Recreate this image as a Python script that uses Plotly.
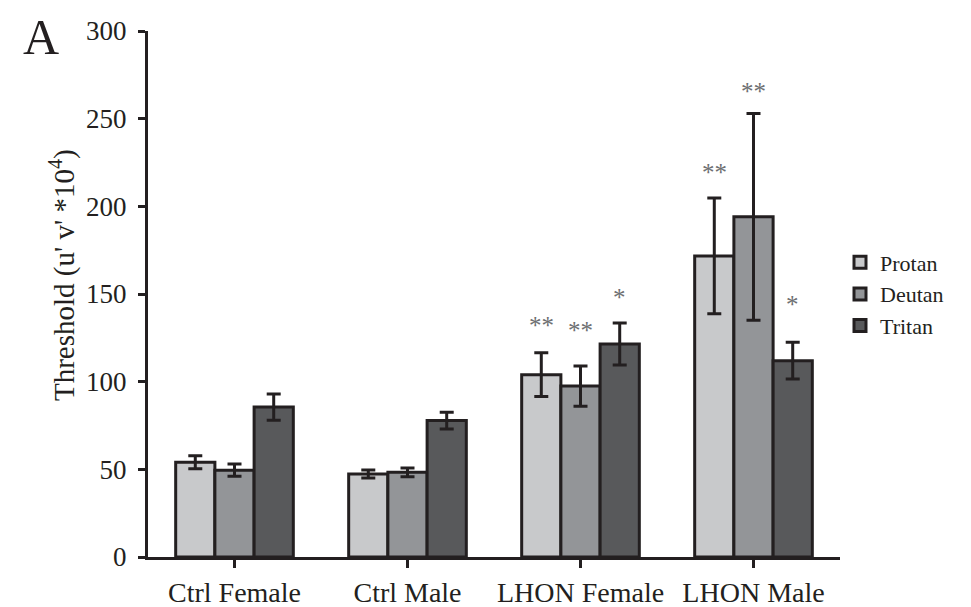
import plotly.graph_objects as go

categories = ["Ctrl Female", "Ctrl Male", "LHON Female", "LHON Male"]
series = ["Protan", "Deutan", "Tritan"]
protan = [54, 47.3, 104, 171.7]
protan_err = [3.7, 2.3, 12.5, 33]
deutan = [49.5, 48.3, 97.5, 194]
deutan_err = [3.5, 2.5, 11.5, 59]
tritan = [85.5, 77.8, 121.5, 112]
tritan_err = [7.5, 4.8, 12, 10.5]
colors = ["#c8c9cb", "#939598", "#58595b"]

# significance markers: (category index, series index, label, y in data units)
sig_cat = [2, 2, 2, 3, 3, 3]
sig_ser = [0, 1, 2, 0, 1, 2]
sig_lab = ["**", "**", "*", "**", "**", "*"]
sig_y = [132.9, 130.6, 149.4, 220.7, 266.9, 145.4]

values = [protan, deutan, tritan]
errors = [protan_err, deutan_err, tritan_err]

FONT = "Liberation Serif"
INK = "#231f20"
BARGAP = 0.32

fig = go.Figure()
xs = list(range(len(categories)))
for s, name in enumerate(series):
    fig.add_trace(go.Bar(
        x=xs, y=values[s], name=name,
        marker=dict(color=colors[s], line=dict(color=INK, width=3)),
        error_y=dict(type="data", array=errors[s], visible=True,
                     color=INK, thickness=3, width=7),
    ))

bw = (1 - BARGAP) / len(series)
annotations = []
for c, s, lab, yv in zip(sig_cat, sig_ser, sig_lab, sig_y):
    annotations.append(dict(
        x=c + (s - 1) * bw, y=yv, xref="x", yref="y", text=lab,
        showarrow=False, font=dict(family=FONT, size=25, color="#6d6e71"),
        xanchor="center", yanchor="middle", yshift=-2))

annotations.append(dict(
    x=-126/692, y=1 + 23/526, xref="paper", yref="paper", text="A",
    showarrow=False, font=dict(family=FONT, size=50, color=INK),
    xanchor="left", yanchor="top", borderpad=0))

annotations.append(dict(
    x=-86/692, y=0.536, xref="paper", yref="paper",
    text="Threshold (u' v' *10<sup>4</sup>)", textangle=-90,
    showarrow=False, font=dict(family=FONT, size=29, color=INK),
    xanchor="center", yanchor="middle"))

fig.update_layout(
    width=963, height=599,
    margin=dict(l=140, r=131, t=23, b=50, autoexpand=False),
    paper_bgcolor="white", plot_bgcolor="white",
    barmode="group", bargap=BARGAP, bargroupgap=0,
    font=dict(family=FONT, size=24, color=INK),
    showlegend=True,
    legend=dict(x=1.0, y=0.5, xanchor="left", yanchor="middle",
                font=dict(family=FONT, size=22, color=INK),
                itemwidth=30, tracegroupgap=0, bgcolor="rgba(0,0,0,0)"),
    annotations=annotations,
)
fig.update_xaxes(
    tickmode="array", tickvals=xs, ticktext=categories,
    range=[-0.5, len(categories) - 0.5], automargin=False,
    showline=True, linecolor=INK, linewidth=3,
    ticks="outside", tickson="boundaries", ticklen=8, tickwidth=2.5, tickcolor=INK,
    tickfont=dict(family=FONT, size=28, color=INK), showgrid=False, zeroline=False,
)
fig.update_yaxes(
    range=[0, 300], tickvals=[0, 50, 100, 150, 200, 250, 300], automargin=False,
    showline=True, linecolor=INK, linewidth=3,
    ticks="outside", ticklen=7, tickwidth=2.5, tickcolor=INK, ticklabelstandoff=6,
    tickfont=dict(family=FONT, size=27, color=INK), showgrid=False, zeroline=False,
)

fig.write_html("out.html")
